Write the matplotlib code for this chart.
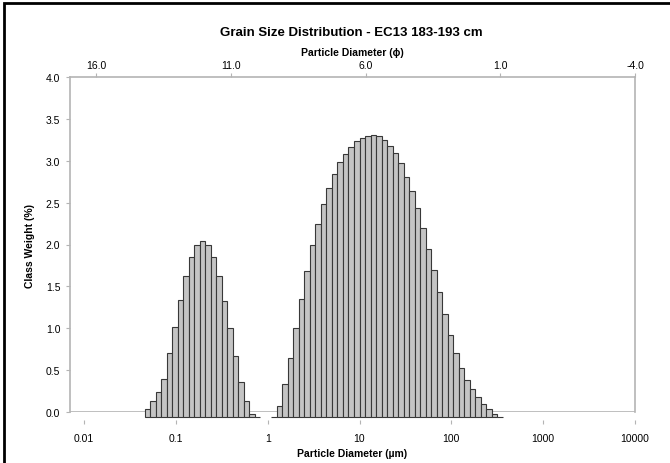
import numpy as np
import matplotlib.pyplot as plt
from matplotlib.patches import Rectangle

# size classes: 0.06 decade wide, class k spans 0.01*10^(0.06k) .. 0.01*10^(0.06(k+1)) um
bin_start = 0.01
bin_step = 0.06

fine_class = np.arange(11, 32)
fine_weight = [0.10, 0.19, 0.30, 0.46, 0.76, 1.08, 1.40, 1.68, 1.91, 2.06, 2.10,
               2.06, 1.91, 1.68, 1.39, 1.06, 0.73, 0.42, 0.19, 0.04, 0.005]

coarse_class = np.arange(34, 76)
coarse_weight = [0.005, 0.13, 0.39, 0.71, 1.06, 1.41, 1.74, 2.05, 2.31, 2.54, 2.73,
                 2.90, 3.04, 3.14, 3.22, 3.29, 3.33, 3.36, 3.37, 3.36, 3.31, 3.24,
                 3.15, 3.03, 2.87, 2.70, 2.49, 2.26, 2.01, 1.76, 1.49, 1.23, 0.98,
                 0.77, 0.59, 0.44, 0.33, 0.235, 0.155, 0.095, 0.04, 0.005]

um_ticks = [0.01, 0.1, 1, 10, 100, 1000, 10000]
um_labels = ['0.01', '0.1', '1', '10', '100', '1000', '10000']
phi_ticks = [16, 11, 6, 1, -4]
phi_labels = ['16.0', '11.0', '6.0', '1.0', '-4.0']
y_ticks = np.arange(0, 4.01, 0.5)

plt.rcParams['font.family'] = ['Liberation Sans Narrow', 'Liberation Sans', 'DejaVu Sans']

axis_grey = '#b4b4b4'
base = -0.06   # the bars sit a little below the zero line in the original

fig = plt.figure(figsize=(6.7, 4.64), dpi=100)
ax = fig.add_axes([70 / 670, 1 - 413 / 464, 565 / 670, 335 / 464])

for cls, w in [(fine_class, fine_weight), (coarse_class, coarse_weight)]:
    lo = bin_start * 10 ** (bin_step * cls)
    hi = bin_start * 10 ** (bin_step * (cls + 1))
    ax.bar(lo, w, width=hi - lo, align='edge', bottom=base, color='#c4c4c4',
           edgecolor='#383838', linewidth=0.8, zorder=3, clip_on=False)

ax.set_xscale('log')
ax.set_xlim(0.01 * 10 ** (-14 / 91.8), 10000)
ax.set_ylim(0, 4)
ax.axhline(0, color=axis_grey, linewidth=1.2, zorder=2)

for s in ['left', 'right', 'top']:
    ax.spines[s].set_color(axis_grey)
    ax.spines[s].set_linewidth(1.2)
ax.spines['bottom'].set_position(('outward', 6))
ax.spines['bottom'].set_color('none')

ax.set_xticks(um_ticks)
ax.set_xticklabels(um_labels)
ax.xaxis.set_minor_locator(plt.NullLocator())
ax.tick_params(axis='x', direction='out', length=3, width=0.8, color=axis_grey,
               labelsize=7.5, pad=6)
ax.set_yticks(y_ticks)
ax.set_yticklabels([f'{v:.1f}' for v in y_ticks])
ax.tick_params(axis='y', direction='out', length=3, width=0.8, color=axis_grey,
               labelsize=7.5, pad=4)
ax.set_xlabel('Particle Diameter (µm)', fontsize=7.5, fontweight='bold', labelpad=4)
ax.set_ylabel('Class Weight (%)', fontsize=7.5, fontweight='bold', labelpad=8)

top = ax.twiny()
top.set_xlim(16 + 26 / 26.95, -4)
top.set_xticks(phi_ticks)
top.set_xticklabels(phi_labels)
top.tick_params(axis='x', direction='out', length=3, width=0.8, color=axis_grey,
                labelsize=7.5, pad=2)
for s in top.spines.values():
    s.set_visible(False)
top.set_xlabel('Particle Diameter (ϕ)', fontsize=7.5, fontweight='bold', labelpad=4)

fig.text(0.525, 1 - 33 / 464, 'Grain Size Distribution - EC13 183-193 cm',
         ha='center', va='center', fontsize=9.5, fontweight='bold')

# black frame round the chart
fig.add_artist(Rectangle((4 / 670, -0.1), 1.2, 1 - 4 / 464 + 0.1,
                         transform=fig.transFigure, fill=False,
                         edgecolor='black', linewidth=2))

fig.savefig('out.png', dpi=100)
